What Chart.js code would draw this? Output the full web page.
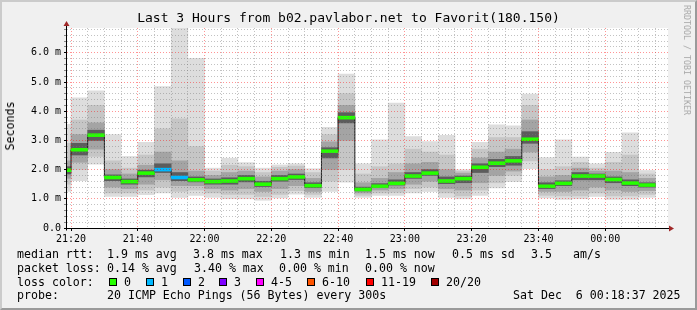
<!DOCTYPE html>
<html lang="en">
<head>
<meta charset="UTF-8">
<title>Last 3 Hours from b02.pavlabor.net to Favorit(180.150)</title>
<script src="https://cdn.jsdelivr.net/npm/chart.js"></script>
<style>
  body { margin: 0; width: 697px; height: 310px; background: #f0f0f0; position: relative; overflow: hidden;
         font-family: "DejaVu Sans Mono", monospace; color: #000; }
  .frame { position: absolute; left: 0; top: 0; width: 697px; height: 310px; box-sizing: border-box;
           border: 2px solid; border-color: #cbcbcb #9a9a9a #9a9a9a #cbcbcb; pointer-events: none; }
  #chart { position: absolute; left: 0; top: 0; }
  #title { position: absolute; left: 0; top: 9px; width: 697px; text-align: center; font-size: 13px; line-height: 18px; white-space: pre; }
  #ylabel { position: absolute; left: 10px; top: 126px; font-size: 11.6px; white-space: nowrap;
            transform: translate(-50%, -50%) rotate(-90deg); }
  #mark { position: absolute; left: 687px; top: 60px; font-size: 8.3px; color: #a8a8a8; white-space: nowrap;
          transform: translate(-50%, -50%) rotate(90deg); }
  .t { position: absolute; white-space: pre; font-size: 11.6px; line-height: 14px; }
  .sw { position: absolute; width: 6px; height: 6px; border: 1px solid #000; }
</style>
</head>
<body>
<canvas id="chart" width="697" height="310"></canvas>
<div id="title">Last 3 Hours from b02.pavlabor.net to Favorit(180.150)</div>
<div id="ylabel">Seconds</div>
<div id="mark">RRDTOOL / TOBI OETIKER</div>

<div class="t" style="left:17px;top:247px">median rtt:</div>
<div class="t" style="left:107px;top:247px">1.9 ms avg</div>
<div class="t" style="left:193px;top:247px">3.8 ms max</div>
<div class="t" style="left:280px;top:247px">1.3 ms min</div>
<div class="t" style="left:365px;top:247px">1.5 ms now</div>
<div class="t" style="left:452px;top:247px">0.5 ms sd</div>
<div class="t" style="left:531px;top:247px">3.5</div>
<div class="t" style="left:573px;top:247px">am/s</div>

<div class="t" style="left:17px;top:261px">packet loss:</div>
<div class="t" style="left:107px;top:261px">0.14 % avg</div>
<div class="t" style="left:194px;top:261px">3.40 % max</div>
<div class="t" style="left:279px;top:261px">0.00 % min</div>
<div class="t" style="left:365px;top:261px">0.00 % now</div>

<div class="t" style="left:17px;top:275px">loss color:</div>
<div id="losslegend"></div>

<div class="t" style="left:17px;top:288px">probe:</div>
<div class="t" style="left:107px;top:288px">20 ICMP Echo Pings (56 Bytes) every 300s</div>
<div class="t" style="left:513px;top:288px">Sat Dec  6 00:18:37 2025</div>

<div class="frame"></div>

<script>
// 5-minute slots (end time of each slot), one column of smoke each
const slots = ['21:20','21:25','21:30','21:35','21:40','21:45','21:50','21:55','22:00','22:05','22:10','22:15',
               '22:20','22:25','22:30','22:35','22:40','22:45','22:50','22:55','23:00','23:05','23:10','23:15',
               '23:20','23:25','23:30','23:35','23:40','23:45','23:50','23:55','00:00','00:05','00:10','00:15'];
const timeLabels = ['21:20','21:40','22:00','22:20','22:40','23:00','23:20','23:40','00:00'];

// rtt in ms: min, inner percentiles, median, max
const rttMin = [1.25,1.62,2.19,1.08,1.08,1.14,1.20,1.05,1.12,1.05,1.00,1.00,0.95,1.03,1.16,1.05,1.25,1.57,
                1.05,1.12,1.12,1.20,1.25,1.05,1.00,1.12,1.37,1.59,2.03,1.03,0.98,1.00,1.08,0.98,0.98,1.05];
const rttQ10 = [1.50,2.00,2.45,1.20,1.20,1.30,1.40,1.25,1.30,1.20,1.15,1.15,1.08,1.15,1.28,1.15,1.60,2.00,
                1.12,1.20,1.22,1.35,1.40,1.20,1.10,1.30,1.55,1.80,2.30,1.12,1.10,1.10,1.20,1.10,1.10,1.15];
const rttQ25 = [1.70,2.25,2.70,1.40,1.35,1.50,1.65,1.45,1.45,1.35,1.30,1.35,1.25,1.35,1.45,1.25,2.00,3.00,
                1.20,1.30,1.35,1.50,1.60,1.35,1.30,1.55,1.80,1.95,2.60,1.25,1.25,1.30,1.40,1.30,1.25,1.28];
const rttQ40 = [1.85,2.50,3.00,1.62,1.50,1.75,1.90,1.62,1.58,1.50,1.50,1.58,1.42,1.60,1.66,1.38,2.40,3.60,
                1.27,1.38,1.47,1.70,1.80,1.52,1.55,1.90,2.10,2.15,2.90,1.35,1.45,1.65,1.65,1.55,1.45,1.40];
const rttMedian = [1.98,2.68,3.18,1.73,1.59,1.88,2.00,1.73,1.65,1.59,1.61,1.69,1.50,1.69,1.75,1.45,2.63,3.78,
                   1.32,1.43,1.53,1.78,1.88,1.61,1.69,2.08,2.22,2.30,3.04,1.43,1.53,1.78,1.78,1.66,1.54,1.47];
const rttQ60 = [2.10,2.90,3.35,1.82,1.68,1.98,2.20,1.90,1.75,1.68,1.72,1.80,1.60,1.80,1.85,1.55,2.75,3.95,
                1.40,1.52,1.65,1.90,2.00,1.75,1.78,2.20,2.35,2.45,3.30,1.55,1.62,1.90,1.85,1.75,1.65,1.55];
const rttQ75 = [2.30,3.20,3.60,2.00,1.85,2.15,2.60,2.30,1.95,1.80,1.90,1.95,1.75,1.95,2.00,1.70,2.95,4.20,
                1.55,1.70,1.90,2.20,2.25,2.00,1.88,2.40,2.60,2.70,3.70,1.75,1.80,2.05,1.95,1.95,1.90,1.70];
const rttQ90 = [2.90,3.70,4.20,2.30,2.05,2.50,3.40,3.74,2.79,1.95,2.15,2.10,1.90,2.08,2.12,1.90,3.20,4.60,
                1.85,2.10,2.20,2.70,2.60,2.50,1.95,2.70,3.10,3.10,4.20,2.00,2.10,2.25,2.05,2.25,2.50,1.85];
const rttMax = [3.55,4.46,4.70,3.20,2.45,2.93,4.84,6.86,5.81,2.05,2.39,2.24,2.05,2.16,2.20,2.03,3.45,5.27,
                2.20,3.02,4.28,3.13,2.96,3.17,2.00,2.93,3.53,3.50,4.59,2.41,3.02,2.43,2.20,2.59,3.26,1.97];
// index into lossColors for each slot
const lossIdx = [0,0,0,0,0,0,1,1,0,0,0,0,0,0,0,0,0,0,0,0,0,0,0,0,0,0,0,0,0,0,0,0,0,0,0,0];

const lossColors = ['#26ff00','#00b8ff','#0059ff','#7e00ff','#ff00ff','#ff5500','#ff0000','#a10000'];
const lossLabels = ['0','1','2','3','4-5','6-10','11-19','20/20'];

// legend row for loss colours
const swatchX = [109,146,183,219,256,307,366,431];
const legend = document.getElementById('losslegend');
lossLabels.forEach((lab, i) => {
  const box = document.createElement('div');
  box.className = 'sw';
  box.style.left = swatchX[i] + 'px';
  box.style.top = '278px';
  box.style.background = lossColors[i];
  legend.appendChild(box);
  const txt = document.createElement('div');
  txt.className = 't';
  txt.style.left = (swatchX[i] + 15) + 'px';
  txt.style.top = '275px';
  txt.textContent = lab;
  legend.appendChild(txt);
});

// minutes after 21:20 for the middle of every slot
function toMin(s) {
  let [h, m] = s.split(':').map(Number);
  if (h < 12) h += 24;
  return (h * 60 + m) - (21 * 60 + 20);
}
const centers = slots.map(s => toMin(s) - 2.5);

const xMin = -1.2, xMax = 178.8, yMax = 6.85;
const MONO = 'DejaVu Sans Mono';
const MAJOR = 'rgba(255,0,0,0.42)', MINOR = 'rgba(120,120,120,0.45)';

function band(lo, hi, color, order) {
  return {
    type: 'bar', order: order, grouped: false,
    data: centers.map((x, i) => ({ x: x, y: [lo[i], hi[i]] })),
    backgroundColor: color, borderWidth: 0,
    barPercentage: 1, categoryPercentage: 1, clip: 0
  };
}

const medHalf = 0.05;
const datasets = [
  band(rttMin, rttMax, '#dddddd', 6),
  band(rttQ10, rttQ90, '#c6c6c6', 5),
  band(rttQ25, rttQ75, '#a4a4a4', 4),
  band(rttQ40, rttQ60, '#5c5c5c', 3),
  {
    type: 'line', order: 1,
    data: centers.map((x, i) => ({ x: x, y: rttMedian[i] })),
    stepped: 'middle', borderColor: '#202020', borderWidth: 1, pointRadius: 0, clip: 0
  },
  {
    type: 'bar', order: 0, grouped: false,
    data: centers.map((x, i) => ({ x: x, y: [rttMedian[i] - medHalf, rttMedian[i] + medHalf] })),
    backgroundColor: lossIdx.map(k => lossColors[k]), borderWidth: 0,
    barPercentage: 1, categoryPercentage: 1, clip: 0
  }
];

const xGrid = [];
for (let v = 0; v <= 175; v += 5) xGrid.push(v);
const yGrid = [];
for (let k = 0; k <= 34; k++) yGrid.push(k / 5);

const areaAndAxes = {
  id: 'areaAndAxes',
  beforeDraw(c) {
    const a = c.chartArea, ctx = c.ctx;
    ctx.save();
    ctx.fillStyle = '#ffffff';
    ctx.fillRect(a.left, a.top, a.right - a.left, a.bottom - a.top);
    ctx.restore();
  },
  afterDraw(c) {
    const a = c.chartArea, ctx = c.ctx;
    const x0 = Math.round(a.left) - 0.5, y0 = Math.round(a.bottom) + 0.5;
    ctx.save();
    ctx.strokeStyle = '#000';
    ctx.lineWidth = 1;
    ctx.beginPath();
    ctx.moveTo(x0 - 2, y0); ctx.lineTo(a.right + 1, y0);
    ctx.moveTo(x0, y0 + 2); ctx.lineTo(x0, a.top - 3);
    ctx.stroke();
    ctx.fillStyle = '#a02828';
    ctx.beginPath();
    ctx.moveTo(a.right + 1, y0 - 3); ctx.lineTo(a.right + 6, y0); ctx.lineTo(a.right + 1, y0 + 3);
    ctx.closePath(); ctx.fill();
    ctx.beginPath();
    ctx.moveTo(x0 - 3, a.top - 2); ctx.lineTo(x0, a.top - 7); ctx.lineTo(x0 + 3, a.top - 2);
    ctx.closePath(); ctx.fill();
    ctx.restore();
  }
};

new Chart(document.getElementById('chart'), {
  type: 'bar',
  data: { datasets: datasets },
  options: {
    responsive: false, animation: false, devicePixelRatio: 1, events: [],
    layout: { padding: { left: 20, top: 28, right: 29, bottom: 62 } },
    plugins: { legend: { display: false }, tooltip: { enabled: false } },
    scales: {
      x: {
        type: 'linear', min: xMin, max: xMax, offset: false,
        afterBuildTicks: s => { s.ticks = xGrid.map(v => ({ value: v })); },
        afterFit: s => { s.height = 20; },
        grid: {
          offset: false, z: 1, lineWidth: 1,
          color: ctx => (ctx.tick && ctx.tick.value % 20 === 0) ? MAJOR : MINOR,
          tickLength: 3, tickBorderDash: [],
          tickColor: ctx => (ctx.tick && ctx.tick.value % 20 === 0) ? '#000' : 'rgba(0,0,0,0)'
        },
        border: { display: false, dash: [1, 2] },
        ticks: {
          autoSkip: false, maxRotation: 0, padding: 2, color: '#000',
          font: { family: MONO, size: 10 },
          callback: v => (v % 20 === 0) ? timeLabels[v / 20] : ''
        }
      },
      y: {
        min: 0, max: yMax,
        afterBuildTicks: s => { s.ticks = yGrid.map(v => ({ value: v })); },
        afterFit: s => { s.width = 47; },
        grid: {
          z: 1, lineWidth: 1,
          color: ctx => (ctx.tick && Math.round(ctx.tick.value * 5) % 5 === 0) ? MAJOR : MINOR,
          tickLength: 3, tickBorderDash: [],
          tickColor: ctx => (ctx.tick && Math.round(ctx.tick.value * 5) % 5 === 0) ? '#000' : 'rgba(90,90,90,0.7)'
        },
        border: { display: false, dash: [1, 2] },
        ticks: {
          autoSkip: false, padding: 3, color: '#000',
          font: { family: MONO, size: 10 },
          callback: v => {
            const r = Math.round(v * 5);
            if (r % 5 !== 0) return '';
            return r === 0 ? '0.0' : (r / 5).toFixed(1) + ' m';
          }
        }
      }
    }
  },
  plugins: [areaAndAxes]
});
</script>
</body>
</html>
